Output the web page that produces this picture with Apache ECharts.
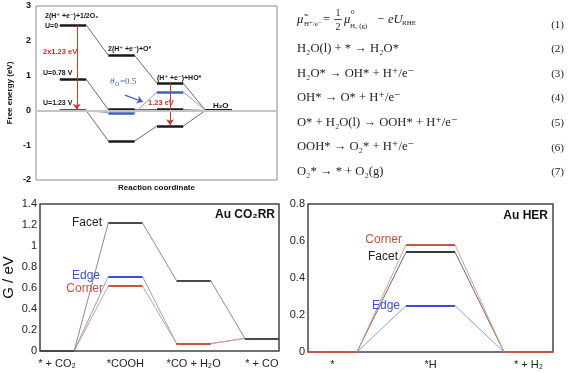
<!DOCTYPE html>
<html><head><meta charset="utf-8">
<script src="https://cdn.jsdelivr.net/npm/echarts@6/dist/echarts.min.js"></script>
<style>html,body{margin:0;padding:0;background:#fff}#c{width:585px;height:373px}</style>
</head><body><div id="c"></div>
<script>
// ---- OER free energy diagram (top-left) ----
const oerSteps = ['2(H⁺+e⁻)+1/2O₂', '2(H⁺+e⁻)+O*', '(H⁺+e⁻)+HO*', 'H₂O'];
const oerU0 = [2.46, 1.58, 0.78, 0];
const oerU078 = [0.90, 0.02, 0.02, 0];
const oerU123 = [0, -0.88, -0.45, 0];
const oerTheta = [0, -0.07, 0.53, 0];
const oerYTicks = [-2, -1, 0, 1, 2, 3];

// ---- Au CO2RR (bottom-left) ----
const co2Categories = ['* + CO₂', '*COOH', '*CO + H₂O', '* + CO'];
const co2Facet = [0, 1.22, 0.67, 0.12];
const co2Edge = [0, 0.71, 0.07, 0.12];
const co2Corner = [0, 0.62, 0.07, 0.12];

// ---- Au HER (bottom-right) ----
const herCategories = ['*', '*H', '* + H₂'];
const herFacet = [0, 0.54, 0];
const herEdge = [0, 0.25, 0];
const herCorner = [0, 0.58, 0];

const SANS = '"Liberation Sans", Arial, "DejaVu Sans", sans-serif';
const SERIF = '"Liberation Serif", "Times New Roman", "DejaVu Serif", serif';

function plateaus(vals, w, idx) {
  return vals.map((v, i) => ({ i, coords: [[i - w, v], [i + w, v]] }))
    .filter(d => !idx || idx.includes(d.i)).map(d => ({ coords: d.coords }));
}
function connectors(vals, w) {
  const r = [];
  for (let i = 0; i < vals.length - 1; i++) r.push({ coords: [[i + w, vals[i]], [i + 1 - w, vals[i + 1]]] });
  return r;
}
function linesSeries(grid, data, color, width, z) {
  return { type: 'lines', coordinateSystem: 'cartesian2d', xAxisIndex: grid, yAxisIndex: grid,
    polyline: false, silent: true, z: z || 2, data,
    lineStyle: { color, width, opacity: 1, curveness: 0 } };
}
function catFormatter(cats) {
  return v => { const r = Math.round(v); return (Math.abs(v - r) < 1e-6 && cats[r] !== undefined) ? cats[r] : ''; };
}

const wO = 0.27, wB = 0.25;
const series = [];
// top-left
series.push(linesSeries(0, connectors(oerU0, wO), '#6a6a6a', 1));
series.push(linesSeries(0, connectors(oerU078, wO), '#6a6a6a', 1));
series.push(linesSeries(0, connectors(oerU123, wO), '#6a6a6a', 1));
series.push(linesSeries(0, connectors(oerTheta, wO), '#8da0d8', 1));
series.push(linesSeries(0, plateaus(oerTheta, wO, [1, 2]), '#3f5fc0', 2.5, 3));
const topPlat = linesSeries(0, plateaus(oerU0, wO).concat(plateaus(oerU078, wO), plateaus(oerU123, wO)), '#1a1a1a', 2.5, 4);
topPlat.markLine = {
  silent: true, symbol: ['none', 'arrow'], symbolSize: 6, label: { show: false },
  animation: false,
  data: [
    [{ coord: [0.08, oerU0[0]], lineStyle: { color: '#d0352b', width: 1, type: 'solid' } }, { coord: [0.08, oerU123[0] + 0.02] }],
    [{ coord: [2.0, oerU0[2]], lineStyle: { color: '#d0352b', width: 1, type: 'solid' } }, { coord: [2.0, oerU123[2] + 0.02] }],
    [{ coord: [1.07, 0.44], lineStyle: { color: '#3f5fc0', width: 1.2, type: 'solid' } }, { coord: [1.44, 0.25] }]
  ]
};
series.push(topPlat);
series.push({ type: 'line', xAxisIndex: 0, yAxisIndex: 0, data: [], z: 1,
  markLine: { silent: true, symbol: 'none', label: { show: false }, animation: false,
    lineStyle: { color: '#c4c4c4', width: 2, type: 'solid' }, data: [{ yAxis: 0 }] } });

// bottom-left CO2RR
series.push(linesSeries(1, connectors(co2Edge, wB), '#8e9be6', 1));
series.push(linesSeries(1, connectors(co2Corner, wB), '#e2998a', 1));
series.push(linesSeries(1, connectors(co2Facet, wB), '#8a8a8a', 1));
series.push(linesSeries(1, plateaus(co2Edge, wB), '#3c4fd0', 2, 3));
series.push(linesSeries(1, plateaus(co2Corner, wB), '#c8553d', 2, 4));
series.push(linesSeries(1, plateaus(co2Facet, wB), '#4a4a4a', 2, 5));

// bottom-right HER
series.push(linesSeries(2, connectors(herEdge, wB), '#8e9be6', 1));
series.push(linesSeries(2, connectors(herFacet, wB), '#6a6a6a', 1));
series.push(linesSeries(2, connectors(herCorner, wB), '#e2998a', 1));
series.push(linesSeries(2, plateaus(herEdge, wB), '#3c4fd0', 2, 3));
series.push(linesSeries(2, plateaus(herFacet, wB), '#3a3a3a', 2, 3));
series.push(linesSeries(2, plateaus(herCorner, wB), '#c8553d', 2, 4));

function txt(text, x, y, o) {
  o = o || {};
  return { type: 'text', x, y, silent: true, z: 100,
    style: { text, fill: o.fill || '#111', font: o.font || ('bold 7px ' + SANS),
      align: o.align || 'left', verticalAlign: 'middle' } };
}
const EQ = '12.6px ' + SERIF;
const graphics = [
  // top-left annotations
  txt(oerSteps[0].replace('(H⁺+', '(H⁺ +'), 45, 16),
  txt('U=0', 45, 26),
  txt(oerSteps[1].replace('(H⁺+', '(H⁺ +'), 108, 49),
  txt(oerSteps[2].replace('(H⁺+', '(H⁺ +'), 157, 78),
  txt('U=0.78 V', 43, 73),
  txt('U=1.23 V', 43, 103),
  txt(oerSteps[3], 213, 106, { font: 'bold 8px ' + SANS }),
  txt('2x1.23 eV', 43, 52, { fill: '#c8302a', font: 'bold 7.5px ' + SANS }),
  txt('1.23 eV', 148, 103, { fill: '#c8302a', font: 'bold 7.5px ' + SANS }),
  txt('θ', 110, 82, { fill: '#3f5fc0', font: 'italic 9px ' + SERIF }),
  txt('O', 115, 84, { fill: '#3f5fc0', font: '6px ' + SERIF }),
  txt('=0.5', 120, 82, { fill: '#3f5fc0', font: '9px ' + SERIF }),
  // bottom-left annotations
  txt('Facet', 102, 223, { font: '12px ' + SANS, fill: '#222', align: 'right' }),
  txt('Edge', 100, 276, { font: '12px ' + SANS, fill: '#3b4fd8', align: 'right' }),
  txt('Corner', 103, 289, { font: '12px ' + SANS, fill: '#c8503a', align: 'right' }),
  txt('Au CO₂RR', 275, 215, { font: 'bold 12px ' + SANS, fill: '#111', align: 'right' }),
  // bottom-right annotations
  txt('Corner', 402, 240, { font: '12px ' + SANS, fill: '#c8503a', align: 'right' }),
  txt('Facet', 398, 257, { font: '12px ' + SANS, fill: '#222', align: 'right' }),
  txt('Edge', 400, 306, { font: '12px ' + SANS, fill: '#3b4fd8', align: 'right' }),
  txt('Au HER', 548, 216, { font: 'bold 12px ' + SANS, fill: '#111', align: 'right' }),
  // equations
  txt('μ̃', 297, 20, { font: 'italic 12.6px ' + SERIF, fill: '#222' }),
  txt('H⁺/e⁻', 304, 24, { font: '7px ' + SERIF, fill: '#222' }),
  txt('=', 323, 20, { font: EQ, fill: '#222' }),
  txt('1', 338, 13, { font: '10px ' + SERIF, fill: '#222', align: 'center' }),
  txt('2', 338, 27, { font: '10px ' + SERIF, fill: '#222', align: 'center' }),
  { type: 'line', silent: true, shape: { x1: 334, y1: 19.5, x2: 342, y2: 19.5 }, style: { stroke: '#222', lineWidth: 0.8 } },
  txt('μ', 344, 20, { font: 'italic 12.6px ' + SERIF, fill: '#222' }),
  txt('0', 351, 12, { font: '7px ' + SERIF, fill: '#222' }),
  txt('H₂ (g)', 350, 26, { font: '7px ' + SERIF, fill: '#222' }),
  txt('−', 377, 20, { font: EQ, fill: '#222' }),
  txt('eU', 388, 20, { font: 'italic 12.6px ' + SERIF, fill: '#222' }),
  txt('RHE', 402, 23, { font: '7px ' + SERIF, fill: '#222' }),
  txt('H₂O(l) + * → H₂O*', 297, 49, { font: EQ, fill: '#222' }),
  txt('H₂O* → OH* + H⁺/e⁻', 297, 74, { font: EQ, fill: '#222' }),
  txt('OH* → O* + H⁺/e⁻', 297, 98, { font: EQ, fill: '#222' }),
  txt('O* + H₂O(l) → OOH* + H⁺/e⁻', 297, 123, { font: EQ, fill: '#222' }),
  txt('OOH* → O₂* + H⁺/e⁻', 297, 147, { font: EQ, fill: '#222' }),
  txt('O₂* → * + O₂(g)', 297, 172, { font: EQ, fill: '#222' })
];
['(1)', '(2)', '(3)', '(4)', '(5)', '(6)', '(7)'].forEach((t, i) => {
  const ys = [25, 49, 74, 98, 123, 148, 172];
  graphics.push(txt(t, 564, ys[i], { font: '11px ' + SERIF, fill: '#222', align: 'right' }));
});

const hidden = { show: false };
const option = {
  animation: false,
  backgroundColor: '#fff',
  grid: [
    { left: 36, top: 6, width: 241, height: 174, show: true, borderColor: '#8a8a8a', borderWidth: 1, backgroundColor: 'transparent' },
    { left: 36, top: 204, width: 243, height: 147, show: true, borderColor: '#444', borderWidth: 1.5, backgroundColor: 'transparent' },
    { left: 308, top: 204, width: 245, height: 148, show: true, borderColor: '#444', borderWidth: 1.5, backgroundColor: 'transparent' }
  ],
  xAxis: [
    { gridIndex: 0, type: 'value', min: -0.76, max: 4.2, axisLabel: hidden, axisTick: hidden, axisLine: hidden, splitLine: hidden,
      name: 'Reaction coordinate', nameLocation: 'middle', nameGap: 8,
      nameTextStyle: { fontFamily: SANS, fontWeight: 'bold', fontSize: 8, color: '#111', verticalAlign: 'middle' } },
    { gridIndex: 1, type: 'value', min: -0.25, max: 3.25, interval: 0.25, axisTick: hidden, axisLine: hidden, splitLine: hidden,
      axisLabel: { formatter: catFormatter(co2Categories), fontFamily: SANS, fontSize: 11, color: '#222', margin: 7 } },
    { gridIndex: 2, type: 'value', min: -0.25, max: 2.25, interval: 0.25, axisTick: hidden, axisLine: hidden, splitLine: hidden,
      axisLabel: { formatter: catFormatter(herCategories), fontFamily: SANS, fontSize: 11, color: '#222', margin: 7 } }
  ],
  yAxis: [
    { gridIndex: 0, type: 'value', min: oerYTicks[0], max: oerYTicks[oerYTicks.length - 1], interval: 1,
      axisLine: hidden, axisTick: hidden, splitLine: hidden,
      axisLabel: { fontFamily: SANS, fontWeight: 'bold', fontSize: 9, color: '#111', margin: 5 },
      name: 'Free energy (eV)', nameLocation: 'middle', nameGap: 22,
      nameTextStyle: { fontFamily: SANS, fontWeight: 'bold', fontSize: 8, color: '#111' } },
    { gridIndex: 1, type: 'value', min: 0, max: 1.4, interval: 0.2,
      axisLine: hidden, axisTick: hidden, splitLine: hidden,
      axisLabel: { fontFamily: SANS, fontSize: 11, color: '#222', margin: 3 },
      name: 'G / eV', nameLocation: 'middle', nameGap: 24,
      nameTextStyle: { fontFamily: SANS, fontSize: 15, color: '#111' } },
    { gridIndex: 2, type: 'value', min: 0, max: 0.8, interval: 0.2,
      axisLine: hidden, axisTick: hidden, splitLine: hidden,
      axisLabel: { fontFamily: SANS, fontSize: 11, color: '#222', margin: 3 } }
  ],
  series,
  graphic: graphics
};
const chart = echarts.init(document.getElementById('c'), null, { renderer: 'canvas' });
chart.setOption(option);
</script></body></html>
